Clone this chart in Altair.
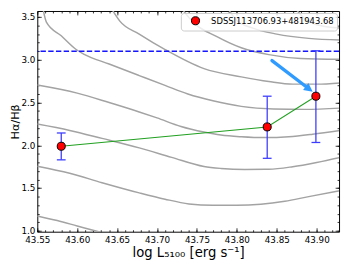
import math
import altair as alt
import pandas as pd

# ---------------- data ----------------
obj_name = "SDSSJ113706.93+481943.68"

logL = [43.58, 43.838, 43.899]
ratio = [1.989, 2.215, 2.574]
ratio_lo = [1.830, 1.848, 2.033]
ratio_hi = [2.144, 2.574, 3.105]

case_b = [3.1]

arrow_x = [43.844, 43.895]
arrow_y = [2.99, 2.626]

# grey model curves
L4_x = [43.55, 43.575, 43.60, 43.627, 43.65]
L4_y = [1.174, 1.12, 1.057, 0.989, 0.93]
L3_x = [43.55, 43.5906, 43.6311, 43.6777, 43.71, 43.74, 43.77, 43.80, 43.83, 43.86, 43.89, 43.93]
L3_y = [1.756, 1.674, 1.563, 1.444, 1.37, 1.315, 1.298, 1.298, 1.31, 1.345, 1.40, 1.47]
L2_x = [43.55, 43.5906, 43.6311, 43.6777, 43.7183, 43.7588, 43.78, 43.81, 43.84, 43.87, 43.90, 43.93]
L2_y = [2.248, 2.174, 2.081, 1.970, 1.859, 1.752, 1.73, 1.718, 1.72, 1.75, 1.80, 1.86]
L1_x = [43.55, 43.60, 43.64, 43.6777, 43.70, 43.73, 43.7588, 43.78, 43.8055, 43.835, 43.865, 43.895, 43.93]
L1_y = [2.704, 2.61, 2.50, 2.39, 2.32, 2.22, 2.155, 2.12, 2.10, 2.09, 2.10, 2.13, 2.175]
C1_x = [43.5575, 43.5614, 43.58, 43.5987, 43.6088, 43.64, 43.6777, 43.71, 43.7386, 43.77, 43.8055, 43.846, 43.885, 43.93]
C1_y = [3.58, 3.44, 3.28, 3.12, 3.063, 2.95, 2.815, 2.70, 2.60, 2.52, 2.455, 2.425, 2.42, 2.435]
C2_x = [43.6441, 43.6534, 43.6777, 43.7102, 43.7588, 43.8055, 43.84, 43.87, 43.90, 43.93]
C2_y = [3.58, 3.452, 3.30, 3.1185, 2.896, 2.80, 2.745, 2.715, 2.715, 2.73]
C3_x = [43.7325, 43.745, 43.775, 43.8055, 43.84, 43.88, 43.93]
C3_y = [3.58, 3.44, 3.27, 3.14, 3.06, 3.015, 3.005]
C4_x = [43.79, 43.80, 43.82, 43.85, 43.89, 43.93]
C4_y = [3.58, 3.46, 3.37, 3.30, 3.25, 3.23]
C5_x = [43.875, 43.885, 43.90, 43.93]
C5_y = [3.58, 3.48, 3.41, 3.37]

x_major = [43.55, 43.60, 43.65, 43.70, 43.75, 43.80, 43.85, 43.90]
x_minor = [round(43.55 + 0.01 * i, 2) for i in range(38)]
y_major = [1.0, 1.5, 2.0, 2.5, 3.0, 3.5]
y_minor = [round(1.0 + 0.1 * i, 1) for i in range(26)]

X_DOM = [43.55, 43.928]
Y_DOM = [0.99, 3.57]
W, H = 309, 226

# ---------------- tables ----------------
curves = {"L4": (L4_x, L4_y), "L3": (L3_x, L3_y), "L2": (L2_x, L2_y), "L1": (L1_x, L1_y),
          "C1": (C1_x, C1_y), "C2": (C2_x, C2_y), "C3": (C3_x, C3_y), "C4": (C4_x, C4_y),
          "C5": (C5_x, C5_y)}
rows = []
for name, (xs_, ys_) in curves.items():
    for i, (a, b) in enumerate(zip(xs_, ys_)):
        rows.append({"curve": name, "x": a, "y": b, "i": i})
curve_df = pd.DataFrame(rows)

pts = pd.DataFrame({"x": logL, "y": ratio, "lo": ratio_lo, "hi": ratio_hi,
                    "label": [obj_name] * len(logL)})
hline = pd.DataFrame({"y": case_b})

# arrow geometry (screen direction from data -> pixels)
ppx = W / (X_DOM[1] - X_DOM[0])
ppy = H / (Y_DOM[1] - Y_DOM[0])
dxp = (arrow_x[1] - arrow_x[0]) * ppx
dyp = -(arrow_y[1] - arrow_y[0]) * ppy
L = math.hypot(dxp, dyp)
ux, uy = dxp / L, dyp / L
angle = math.degrees(math.atan2(dxp, -dyp)) % 360
head = 9.0
base_x = arrow_x[1] - (head - 1.5) * ux / ppx
base_y = arrow_y[1] + (head - 1.5) * uy / ppy
shaft = pd.DataFrame({"x": [arrow_x[0], base_x], "y": [arrow_y[0], base_y], "i": [0, 1]})
tip = pd.DataFrame({"x": [arrow_x[1]], "y": [arrow_y[1]]})

# ---------------- scales / axes ----------------
xs = alt.Scale(domain=X_DOM, nice=False, zero=False)
ys = alt.Scale(domain=Y_DOM, nice=False, zero=False)
FONT = "DejaVu Sans"


def tick_axis(orient, values, size):
    return alt.Axis(orient=orient, values=values, offset=-size, tickSize=size, labels=False,
                    domain=False, title=None, grid=False, tickColor="black", tickWidth=0.8)


x_lab = alt.Axis(orient="bottom", values=x_major, format=".2f", ticks=False, tickSize=0,
                 domain=False, grid=False, labelFontSize=9, labelPadding=4, labelFlush=False,
                 labelOverlap=False, labelColor="black", labelFont=FONT,
                 title="log L\u2085\u2081\u2080\u2080 [erg s\u207b\u00b9]", titleFontSize=13.5,
                 titleFontWeight="normal", titleFont=FONT, titleColor="black", titlePadding=1)
y_lab = alt.Axis(orient="left", values=y_major, format=".1f", ticks=False, tickSize=0,
                 domain=False, grid=False, labelFontSize=9, labelPadding=2.5, labelFlush=False,
                 labelOverlap=False, labelColor="black", labelFont=FONT,
                 title="H\u03b1/H\u03b2", titleFontSize=11.5, titleFontWeight="normal",
                 titleFont=FONT, titleColor="black", titlePadding=0.5)

curve_layer = alt.Chart(curve_df).mark_line(color="#a3a3a3", strokeWidth=1.5, clip=True,
                                             interpolate="monotone").encode(
    x=alt.X("x:Q", scale=xs, axis=x_lab),
    y=alt.Y("y:Q", scale=ys, axis=y_lab),
    detail="curve:N",
    order="i:Q",
)

hline_layer = alt.Chart(hline).mark_rule(color="#1515ff", strokeWidth=1.5,
                                         strokeDash=[5.5, 2.4]).encode(
    y=alt.Y("y:Q", scale=ys, axis=None))

green_layer = alt.Chart(pts).mark_line(color="#22a022", strokeWidth=1.1).encode(
    x=alt.X("x:Q", scale=xs, axis=tick_axis("bottom", x_major, 4)),
    y=alt.Y("y:Q", scale=ys, axis=tick_axis("left", y_major, 4)),
)

err_layer = alt.Chart(pts).mark_rule(color="#3c3cff", strokeWidth=1.3).encode(
    x=alt.X("x:Q", scale=xs, axis=tick_axis("bottom", x_minor, 2)),
    y=alt.Y("lo:Q", scale=ys, axis=tick_axis("left", y_minor, 2)),
    y2="hi:Q",
)

cap_lo = alt.Chart(pts).mark_tick(orient="horizontal", size=9, thickness=1.3,
                                  color="#3c3cff", opacity=1).encode(
    x=alt.X("x:Q", scale=xs, axis=tick_axis("top", x_major, 4)),
    y=alt.Y("lo:Q", scale=ys, axis=tick_axis("right", y_major, 4)),
)

cap_hi = alt.Chart(pts).mark_tick(orient="horizontal", size=9, thickness=1.3,
                                  color="#3c3cff", opacity=1).encode(
    x=alt.X("x:Q", scale=xs, axis=tick_axis("top", x_minor, 2)),
    y=alt.Y("hi:Q", scale=ys, axis=tick_axis("right", y_minor, 2)),
)

point_layer = alt.Chart(pts).mark_point(filled=True, size=68, stroke="black", strokeWidth=1,
                                        opacity=1).encode(
    x=alt.X("x:Q", scale=xs, axis=None),
    y=alt.Y("y:Q", scale=ys, axis=None),
    color=alt.Color("label:N", scale=alt.Scale(domain=[obj_name], range=["#ff0000"]),
                    legend=alt.Legend(title=None, orient="top-right", offset=2, padding=3,
                                      cornerRadius=3, strokeColor="#cccccc",
                                      fillColor="rgba(255,255,255,0.8)", labelFontSize=8.6,
                                      labelFont=FONT, labelColor="black", symbolType="circle",
                                      symbolSize=68, symbolStrokeColor="black",
                                      symbolStrokeWidth=1, symbolOffset=7, labelOffset=11)),
)

shaft_layer = alt.Chart(shaft).mark_line(color="#2f9bff", strokeWidth=3.4, strokeCap="round").encode(
    x=alt.X("x:Q", scale=xs, axis=None),
    y=alt.Y("y:Q", scale=ys, axis=None),
    order="i:Q",
)

head_layer = alt.Chart(tip).mark_point(shape="M0,0L-0.5,1L0.5,1Z", filled=True,
                                       size=(2 * head) ** 2, angle=angle, color="#2f9bff",
                                       opacity=1, strokeWidth=0).encode(
    x=alt.X("x:Q", scale=xs, axis=None),
    y=alt.Y("y:Q", scale=ys, axis=None),
)

chart = alt.layer(
    curve_layer, hline_layer, green_layer, err_layer, cap_lo, cap_hi, point_layer,
    shaft_layer, head_layer,
).resolve_axis(x="independent", y="independent").properties(
    width=W, height=H,
    padding={"left": 30, "top": 0, "right": 2, "bottom": 30},
    autosize=alt.AutoSizeParams(type="none"),
    background="white",
).configure_view(stroke="black", strokeWidth=1).configure_axis(grid=False)

chart.save("out.html", embed_options={"renderer": "svg", "actions": False})
